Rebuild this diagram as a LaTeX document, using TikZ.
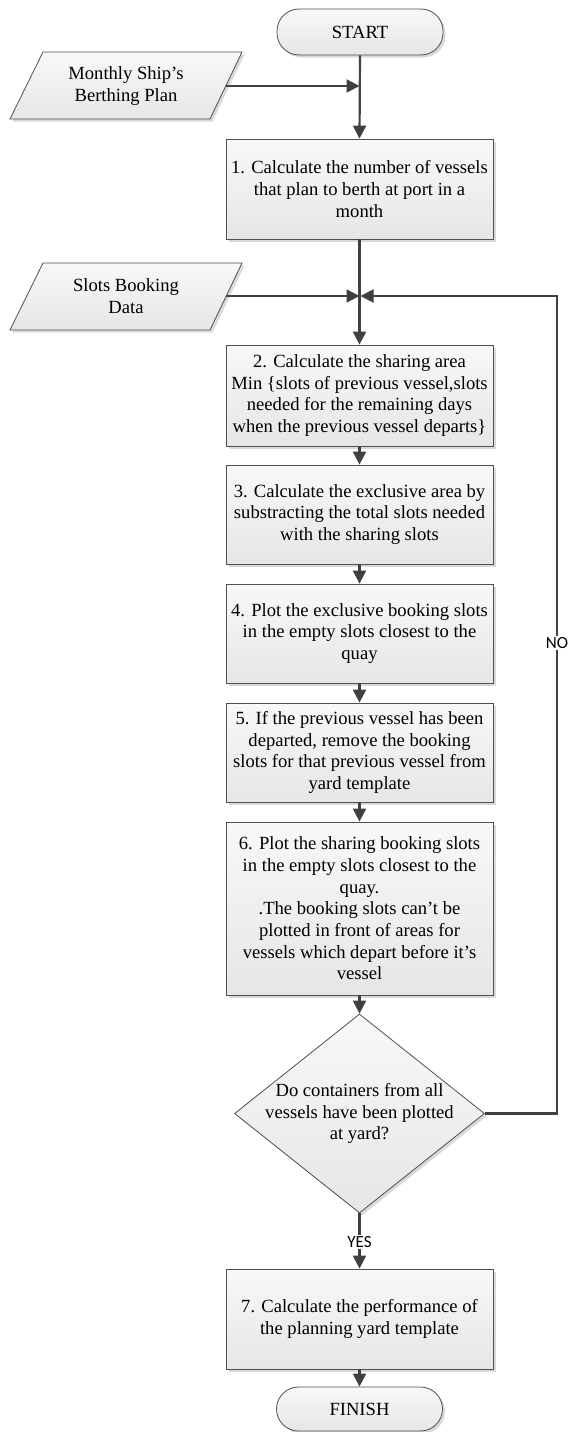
\documentclass[tikz,border=0pt]{standalone}
\usepackage{fontspec}
\setmainfont{Liberation Serif}
\newfontfamily\lblfont{Carlito}
\usetikzlibrary{arrows.meta,shapes.geometric,shadows}
\definecolor{linec}{HTML}{404040}
\definecolor{bordc}{HTML}{505050}
\definecolor{filltop}{HTML}{F8F8F8}
\definecolor{fillbot}{HTML}{E6E6E6}
\tikzset{
  shapestyle/.style={draw=bordc, line width=0.8pt, top color=filltop, bottom color=fillbot,
    drop shadow={shadow xshift=2.5pt, shadow yshift=-2.5pt, fill=black!25, opacity=0.6}},
  procbox/.style={shapestyle, rectangle, minimum width=267pt, inner sep=0pt, align=center,
    font=\fontsize{18.6}{21.7}\selectfont},
  termbox/.style={shapestyle, rectangle, rounded corners=22pt, minimum width=166pt, inner sep=0pt,
    font=\fontsize{18.6}{21.7}\selectfont},
  txt/.style={inner sep=0pt, align=center, font=\fontsize{18.6}{21.7}\selectfont},
  conn/.style={draw=linec, line width=2.2pt},
  arr/.style={conn, -{Triangle[length=13pt,width=13pt]}},
  lbl/.style={fill=white, inner sep=1.5pt, font=\lblfont\fontsize{17}{20}\selectfont, text=black},
}
\begin{document}
\begin{tikzpicture}[x=1pt,y=-1pt]
\useasboundingbox (0,0) rectangle (568,1432);
% terminals
\node[termbox, minimum height=46pt] (start) at (360,32) {START};
% input parallelograms
\draw[shapestyle] (43,52) -- (242,52) -- (210,119) -- (10,119) -- cycle;
\node[txt] (in1) at (126,86) {Monthly Ship’s\\Berthing Plan};
\coordinate (in1r) at (226,86);
\draw[shapestyle] (43,263) -- (242,263) -- (210,330) -- (10,330) -- cycle;
\node[txt] (in2) at (126,296) {Slots Booking\\Data};
\coordinate (in2r) at (226.2,296);
% process boxes
\node[procbox, minimum height=100pt] (b1) at (359.5,189) {1. Calculate the number of vessels\\that plan to berth at port in a\\month};
\node[procbox, minimum height=101pt] (b2) at (359.5,395.5) {2. Calculate the sharing area\\Min \{slots of previous vessel,slots\\needed for the remaining days\\when the previous vessel departs\}};
\node[procbox, minimum height=99pt] (b3) at (359.5,514.5) {3. Calculate the exclusive area by\\substracting the total slots needed\\with the sharing slots};
\node[procbox, minimum height=99pt] (b4) at (359.5,633.5) {4. Plot the exclusive booking slots\\in the empty slots closest to the\\quay};
\node[procbox, minimum height=99pt] (b5) at (359.5,752.5) {5. If the previous vessel has been\\departed, remove the booking\\slots for that previous vessel from\\yard template};
\node[procbox, minimum height=173pt] (b6) at (359.5,908.5) {6. Plot the sharing booking slots\\in the empty slots closest to the\\quay.\\.The booking slots can’t be\\plotted in front of areas for\\vessels which depart before it’s\\vessel};
% decision
\node[shapestyle, diamond, minimum width=250pt, minimum height=199pt, inner sep=0pt] (dia) at (359.5,1113.5) {};
\node[txt] (diat) at (359.5,1113.5) {Do containers from all\\vessels have been plotted\\at yard?};
\node[procbox, minimum height=100pt] (b7) at (359.5,1319) {7. Calculate the performance of\\the planning yard template};
\node[termbox, minimum height=44pt] (fin) at (359.5,1409) {FINISH};
% junctions
\coordinate (j1) at (359.5,86);
\coordinate (j2) at (359.5,296);
\coordinate (loopB) at (557,1113.5);
\coordinate (loopT) at (557,296);
% connectors
\draw[arr] (start.south) -- (b1.north);
\draw[arr] (in1r) -- (j1);
\draw[arr] (b1.south) -- (b2.north);
\draw[arr] (in2r) -- (j2);
\draw[arr] (dia.east) -- (loopB) -- (loopT) -- ([xshift=1pt]j2);
\draw[arr] (b2.south) -- (b3.north);
\draw[arr] (b3.south) -- (b4.north);
\draw[arr] (b4.south) -- (b5.north);
\draw[arr] (b5.south) -- (b6.north);
\draw[arr] (b6.south) -- (dia.north);
\draw[arr] (dia.south) -- (b7.north);
\draw[arr] (b7.south) -- (fin.north);
% labels
\node[lbl] (no) at (557,643) {NO};
\node[lbl] (yes) at (359.5,1242) {YES};
\end{tikzpicture}
\end{document}
